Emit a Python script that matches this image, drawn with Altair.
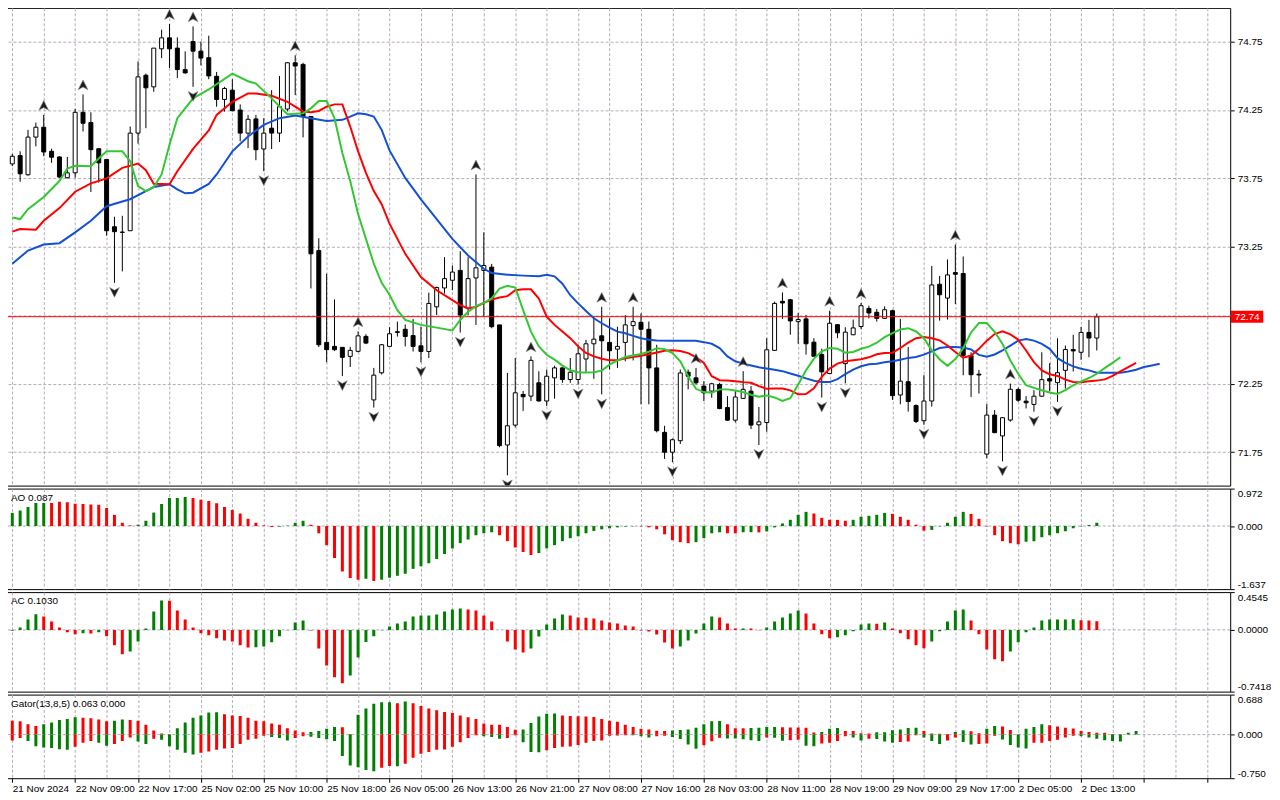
import json
import altair as alt
import pandas as pd

# ---------------- candles (hourly bars, index 0..138) ----------------
opens = [73.856, 73.917, 73.777, 74.052, 74.124, 73.948, 73.907, 73.755, 73.791, 74.233,
         74.158, 73.967, 73.888, 73.397, 73.358, 73.368, 74.081, 74.504, 74.419, 74.697,
         74.777, 74.702, 74.545, 74.750, 74.680, 74.632, 74.496, 74.327, 74.395, 74.250,
         74.081, 74.185, 73.965, 74.117, 74.081, 74.257, 74.595, 74.583, 74.202, 73.223,
         72.552, 72.523, 72.516, 72.450, 72.487, 72.596, 72.132, 72.330, 72.523, 72.630,
         72.648, 72.602, 72.527, 72.486, 72.812, 72.950, 73.006, 73.078, 72.800, 73.023,
         73.078, 73.102, 72.680, 71.803, 71.948, 72.172, 72.160, 72.257, 72.124, 72.293,
         72.366, 72.281, 72.281, 72.431, 72.542, 72.600, 72.552, 72.503, 72.552, 72.675,
         72.699, 72.648, 72.366, 71.895, 71.750, 71.834, 72.334, 72.293, 72.233, 72.196,
         72.245, 72.076, 71.984, 72.143, 72.196, 71.950, 71.967, 72.494, 72.852, 72.864,
         72.704, 72.724, 72.554, 72.463, 72.325, 72.682, 72.397, 72.608, 72.668, 72.800,
         72.772, 72.728, 72.784, 72.168, 72.265, 72.091, 71.980, 72.124, 72.977, 72.876,
         73.062, 73.055, 72.456, 72.320, 71.736, 72.021, 71.869, 71.985, 72.208, 72.123,
         72.099, 72.159, 72.287, 72.258, 72.348, 72.500, 72.480, 72.625, 72.584]
highs = [73.930, 73.948, 74.105, 74.158, 74.214, 73.967, 73.912, 73.907, 74.257, 74.364,
         74.233, 73.967, 73.888, 73.470, 73.477, 74.129, 74.605, 74.516, 74.702, 74.837,
         74.878, 74.781, 74.678, 74.861, 74.750, 74.793, 74.528, 74.419, 74.475, 74.291,
         74.214, 74.214, 74.190, 74.395, 74.499, 74.600, 74.649, 74.595, 74.202, 73.313,
         73.054, 72.866, 72.516, 72.520, 72.632, 72.612, 72.366, 72.540, 72.663, 72.704,
         72.684, 72.723, 72.667, 72.916, 72.960, 73.175, 73.114, 73.218, 73.175, 73.779,
         73.356, 73.126, 72.680, 72.329, 72.438, 72.197, 72.450, 72.341, 72.353, 72.382,
         72.370, 72.438, 72.535, 72.571, 72.740, 72.812, 72.728, 72.667, 72.752, 72.812,
         72.764, 72.704, 72.535, 71.943, 71.850, 72.354, 72.354, 72.366, 72.269, 72.257,
         72.257, 72.160, 72.196, 72.342, 72.233, 72.080, 72.583, 72.850, 72.917, 72.870,
         72.767, 72.752, 72.583, 72.506, 72.784, 72.685, 72.663, 72.719, 72.840, 72.820,
         72.796, 72.815, 72.791, 72.724, 72.518, 72.100, 72.313, 73.110, 73.038, 73.158,
         73.267, 73.180, 72.480, 72.352, 72.101, 72.058, 72.006, 72.251, 72.222, 72.159,
         72.203, 72.480, 72.401, 72.582, 72.529, 72.608, 72.666, 72.717, 72.763]
lows = [73.840, 73.726, 73.770, 73.984, 73.912, 73.864, 73.755, 73.750, 73.755, 74.093,
        73.651, 73.719, 73.332, 72.987, 73.071, 73.368, 74.004, 74.117, 74.383, 74.629,
        74.557, 74.484, 74.516, 74.419, 74.576, 74.475, 74.274, 74.238, 74.240, 74.021,
        73.972, 73.883, 73.803, 73.965, 74.016, 74.240, 74.359, 74.050, 72.946, 72.518,
        72.407, 72.490, 72.306, 72.373, 72.480, 72.540, 72.076, 72.318, 72.520, 72.595,
        72.523, 72.486, 72.407, 72.438, 72.752, 72.909, 72.933, 72.624, 72.752, 72.680,
        72.740, 72.655, 71.786, 71.581, 71.931, 72.052, 72.124, 72.120, 72.088, 72.141,
        72.257, 72.257, 72.245, 72.330, 72.286, 72.172, 72.354, 72.366, 72.414, 72.420,
        72.100, 72.100, 71.895, 71.701, 71.677, 71.810, 72.209, 72.245, 72.124, 72.148,
        72.064, 71.980, 71.967, 72.140, 71.919, 71.803, 71.900, 72.490, 72.724, 72.608,
        72.542, 72.463, 72.450, 72.149, 72.320, 72.583, 72.253, 72.605, 72.650, 72.728,
        72.704, 72.723, 72.132, 72.100, 72.047, 71.963, 71.951, 72.083, 72.711, 72.719,
        72.832, 72.312, 72.154, 72.178, 71.707, 71.889, 71.683, 71.973, 72.118, 72.070,
        72.046, 72.155, 72.195, 72.118, 72.215, 72.340, 72.425, 72.444, 72.493]
closes = [73.912, 73.784, 74.052, 74.124, 73.943, 73.905, 73.760, 73.791, 74.233, 74.153,
          73.960, 73.864, 73.368, 73.361, 73.356, 74.081, 74.492, 74.412, 74.702, 74.777,
          74.697, 74.545, 74.521, 74.680, 74.629, 74.499, 74.327, 74.407, 74.245, 74.081,
          74.182, 73.960, 74.081, 74.081, 74.274, 74.595, 74.571, 74.202, 73.199, 72.535,
          72.499, 72.499, 72.443, 72.494, 72.600, 72.547, 72.313, 72.535, 72.615, 72.625,
          72.595, 72.523, 72.486, 72.837, 72.953, 73.018, 73.066, 72.752, 73.018, 73.097,
          73.114, 72.667, 71.798, 71.943, 72.184, 72.155, 72.421, 72.124, 72.305, 72.366,
          72.281, 72.334, 72.469, 72.542, 72.576, 72.564, 72.491, 72.523, 72.680, 72.704,
          72.648, 72.366, 71.907, 71.750, 71.841, 72.329, 72.305, 72.257, 72.184, 72.250,
          72.069, 71.984, 72.153, 72.209, 71.948, 71.972, 72.498, 72.837, 72.840, 72.709,
          72.719, 72.542, 72.451, 72.337, 72.692, 72.622, 72.627, 72.658, 72.820, 72.767,
          72.728, 72.791, 72.163, 72.269, 72.120, 71.975, 72.124, 72.972, 72.900, 73.045,
          73.050, 72.457, 72.316, 72.314, 72.021, 71.893, 72.002, 72.210, 72.130, 72.111,
          72.159, 72.280, 72.270, 72.331, 72.500, 72.490, 72.625, 72.584, 72.739]

price_now = 72.74

# fractal bars
frac_up = [4, 9, 20, 23, 36, 44, 59, 66, 75, 79, 87, 93, 98, 104, 108, 120, 127]
frac_dn = [13, 23, 32, 42, 46, 52, 57, 63, 68, 72, 75, 84, 95, 103, 106, 116, 126, 130, 133]

# ---------------- Alligator lines (bar index, price) ----------------
jaw = [(0, 73.127), (2, 73.223), (4, 73.267), (6, 73.277), (8, 73.356), (10, 73.441), (12, 73.547),
       (14, 73.581), (15, 73.598), (17, 73.658), (18, 73.687), (20, 73.707), (21, 73.670), (22, 73.641),
       (23, 73.646), (25, 73.710), (26, 73.779), (28, 73.948), (30, 74.057), (32, 74.141), (34, 74.190),
       (36, 74.209), (38, 74.190), (40, 74.170), (42, 74.178), (43, 74.202), (44, 74.226), (45, 74.219),
       (46, 74.202), (47, 74.105), (48, 73.955), (50, 73.754), (52, 73.597), (54, 73.453), (56, 73.308),
       (58, 73.187), (60, 73.090), (61, 73.059), (63, 73.047), (65, 73.040), (67, 73.035), (68, 73.047),
       (69, 73.035), (70, 72.981), (71, 72.897), (72, 72.837), (73, 72.782), (74, 72.728), (75, 72.692),
       (76, 72.660), (77, 72.631), (78, 72.619), (79, 72.600), (80, 72.583), (81, 72.571), (82, 72.566),
       (84, 72.564), (86, 72.564), (87, 72.564), (88, 72.554), (89, 72.542), (90, 72.510), (91, 72.450),
       (92, 72.414), (93, 72.397), (94, 72.383), (95, 72.370), (96, 72.361), (97, 72.352), (98, 72.342),
       (99, 72.325), (100, 72.308), (101, 72.289), (102, 72.272), (103, 72.262), (104, 72.262),
       (105, 72.284), (106, 72.320), (107, 72.354), (108, 72.378), (109, 72.393), (110, 72.397),
       (111, 72.407), (112, 72.414), (113, 72.426), (114, 72.439), (115, 72.446), (116, 72.463),
       (117, 72.487), (118, 72.511), (119, 72.518), (120, 72.518), (121, 72.515), (122, 72.500),
       (123, 72.461), (124, 72.447), (125, 72.464), (126, 72.493), (127, 72.529), (128, 72.565),
       (129, 72.577), (130, 72.565), (131, 72.541), (132, 72.505), (133, 72.437), (134, 72.403),
       (135, 72.377), (136, 72.360), (137, 72.348), (138, 72.331), (139, 72.331), (140, 72.331),
       (141, 72.331), (142, 72.340), (143, 72.352), (144, 72.372), (145, 72.384), (146, 72.396)]
teeth = [(0, 73.361), (1, 73.380), (3, 73.376), (4, 73.441), (6, 73.533), (8, 73.653), (10, 73.714),
         (12, 73.750), (14, 73.827), (16, 73.859), (17, 73.810), (18, 73.711), (20, 73.707), (21, 73.803),
         (23, 73.966), (25, 74.100), (26, 74.214), (28, 74.310), (30, 74.371), (31, 74.371), (33, 74.354),
         (35, 74.310), (36, 74.274), (37, 74.238), (38, 74.233), (39, 74.243), (40, 74.274), (41, 74.291),
         (42, 74.291), (43, 74.129), (44, 73.948), (45, 73.791), (46, 73.658), (47, 73.562), (48, 73.420),
         (50, 73.199), (52, 73.030), (54, 72.933), (56, 72.861), (57, 72.824), (58, 72.800), (59, 72.812),
         (60, 72.841), (61, 72.865), (62, 72.880), (63, 72.890), (64, 72.933), (65, 72.940), (66, 72.940),
         (67, 72.873), (68, 72.740), (69, 72.680), (70, 72.631), (71, 72.583), (72, 72.523), (73, 72.475),
         (74, 72.450), (75, 72.433), (76, 72.421), (77, 72.421), (78, 72.436), (79, 72.445), (80, 72.455),
         (81, 72.465), (82, 72.479), (83, 72.491), (84, 72.494), (85, 72.489), (86, 72.474), (87, 72.445),
         (88, 72.402), (89, 72.305), (90, 72.276), (91, 72.273), (92, 72.269), (93, 72.262), (94, 72.257),
         (95, 72.233), (96, 72.213), (97, 72.215), (98, 72.216), (99, 72.202), (100, 72.173), (101, 72.175),
         (102, 72.216), (103, 72.301), (104, 72.361), (105, 72.397), (106, 72.414), (107, 72.422),
         (108, 72.429), (109, 72.443), (110, 72.465), (111, 72.475), (112, 72.477), (113, 72.511),
         (114, 72.550), (115, 72.583), (116, 72.591), (117, 72.583), (118, 72.567), (119, 72.530),
         (120, 72.482), (121, 72.440), (122, 72.456), (123, 72.505), (124, 72.565), (125, 72.613),
         (126, 72.633), (127, 72.611), (128, 72.572), (129, 72.493), (130, 72.408), (131, 72.348),
         (132, 72.319), (133, 72.307), (134, 72.280), (135, 72.263), (136, 72.261), (137, 72.268),
         (138, 72.273), (139, 72.282), (140, 72.307), (141, 72.340), (142, 72.372), (143, 72.403)]
lips = [(0, 73.465), (1, 73.453), (2, 73.525), (4, 73.615), (6, 73.731), (7, 73.822), (8, 73.842),
        (10, 73.839), (11, 73.895), (12, 73.948), (14, 73.948), (15, 73.876), (16, 73.694), (17, 73.658),
        (18, 73.687), (19, 73.779), (20, 73.996), (21, 74.190), (23, 74.335), (25, 74.400), (28, 74.516),
        (30, 74.460), (31, 74.443), (33, 74.335), (35, 74.219), (37, 74.226), (38, 74.262), (39, 74.315),
        (40, 74.315), (41, 74.190), (42, 73.936), (43, 73.731), (44, 73.490), (46, 73.127), (47, 72.987),
        (48, 72.900), (49, 72.788), (50, 72.716), (52, 72.680), (54, 72.660), (56, 72.639), (57, 72.716),
        (58, 72.776), (59, 72.817), (60, 72.841), (61, 72.873), (62, 72.945), (63, 72.965), (64, 72.953),
        (65, 72.788), (66, 72.631), (67, 72.523), (68, 72.462), (69, 72.426), (70, 72.383), (71, 72.349),
        (72, 72.334), (73, 72.332), (74, 72.334), (75, 72.346), (76, 72.390), (77, 72.421), (78, 72.445),
        (79, 72.457), (80, 72.467), (81, 72.484), (82, 72.510), (83, 72.503), (84, 72.474), (85, 72.414),
        (86, 72.305), (87, 72.213), (88, 72.189), (89, 72.184), (90, 72.209), (91, 72.209), (92, 72.200),
        (93, 72.189), (94, 72.170), (95, 72.155), (96, 72.165), (97, 72.150), (98, 72.124), (99, 72.144),
        (100, 72.245), (101, 72.349), (102, 72.434), (103, 72.487), (104, 72.511), (105, 72.506),
        (106, 72.477), (107, 72.482), (108, 72.506), (109, 72.521), (110, 72.550), (111, 72.591),
        (112, 72.620), (113, 72.646), (114, 72.656), (115, 72.632), (116, 72.583), (117, 72.494),
        (118, 72.429), (119, 72.381), (120, 72.430), (121, 72.510), (122, 72.625), (123, 72.693),
        (124, 72.693), (125, 72.630), (126, 72.541), (127, 72.420), (128, 72.323), (129, 72.239),
        (130, 72.220), (131, 72.203), (132, 72.186), (133, 72.176), (134, 72.203), (135, 72.239),
        (136, 72.268), (137, 72.292), (138, 72.323), (139, 72.364), (140, 72.403), (141, 72.444)]

# ---------------- Awesome Oscillator ----------------
ao_v = [0.342, 0.402, 0.496, 0.598, 0.600, 0.596, 0.630, 0.615, 0.580, 0.573,
        0.556, 0.555, 0.470, 0.290, 0.085, 0.017, 0.034, 0.137, 0.350, 0.573,
        0.726, 0.730, 0.752, 0.726, 0.684, 0.650, 0.590, 0.496, 0.419, 0.325,
        0.188, 0.085, 0.017, -0.026, -0.017, 0.009, 0.085, 0.137, 0.034, -0.188,
        -0.496, -0.829, -1.179, -1.350, -1.393, -1.368, -1.427, -1.393, -1.342, -1.291,
        -1.239, -1.111, -1.043, -0.966, -0.855, -0.726, -0.581, -0.444, -0.350, -0.239,
        -0.188, -0.162, -0.239, -0.393, -0.556, -0.675, -0.752, -0.701, -0.581, -0.496,
        -0.393, -0.316, -0.265, -0.188, -0.128, -0.085, -0.060, -0.034, -0.017, -0.009,
        -0.010, -0.034, -0.085, -0.214, -0.368, -0.419, -0.444, -0.419, -0.316, -0.188,
        -0.162, -0.188, -0.190, -0.162, -0.160, -0.165, -0.137, -0.034, 0.068, 0.162,
        0.291, 0.368, 0.325, 0.214, 0.162, 0.160, 0.137, 0.162, 0.240, 0.265,
        0.291, 0.342, 0.316, 0.240, 0.162, 0.034, -0.120, -0.100, -0.010, 0.085,
        0.240, 0.368, 0.316, 0.188, -0.010, -0.239, -0.393, -0.444, -0.470, -0.410,
        -0.393, -0.290, -0.239, -0.188, -0.137, -0.060, -0.005, 0.026, 0.087]
ao_runs = [("g", 5), ("r", 11), ("g", 7), ("r", 11), ("g", 4), ("r", 7), ("g", 1), ("r", 1),
           ("g", 15), ("r", 5), ("g", 13), ("r", 7), ("g", 4), ("r", 2), ("g", 2), ("r", 1),
           ("g", 6), ("r", 5), ("g", 5), ("r", 5), ("g", 5), ("r", 7), ("g", 10)]

# ---------------- Accelerator Oscillator ----------------
ac_v = [-0.010, 0.028, 0.124, 0.188, 0.160, 0.100, 0.028, -0.028, -0.052, -0.040,
        -0.044, -0.028, -0.076, -0.184, -0.293, -0.260, -0.140, 0.016, 0.220, 0.353,
        0.352, 0.232, 0.124, 0.028, -0.040, -0.064, -0.100, -0.128, -0.140, -0.184,
        -0.212, -0.208, -0.200, -0.148, -0.076, -0.004, 0.088, 0.112, -0.008, -0.224,
        -0.429, -0.569, -0.641, -0.549, -0.333, -0.144, -0.076, -0.004, 0.040, 0.076,
        0.100, 0.160, 0.172, 0.174, 0.184, 0.220, 0.244, 0.257, 0.244, 0.232,
        0.172, 0.100, 0.000, -0.140, -0.236, -0.273, -0.224, -0.080, 0.064, 0.136,
        0.184, 0.172, 0.148, 0.147, 0.136, 0.112, 0.088, 0.076, 0.052, 0.040,
        -0.008, -0.020, -0.056, -0.152, -0.224, -0.200, -0.128, -0.044, 0.076, 0.160,
        0.148, 0.076, 0.016, 0.017, 0.016, -0.004, 0.028, 0.100, 0.148, 0.196,
        0.232, 0.196, 0.076, -0.052, -0.100, -0.088, -0.064, -0.016, 0.064, 0.076,
        0.075, 0.088, 0.016, -0.040, -0.112, -0.184, -0.220, -0.140, -0.016, 0.100,
        0.232, 0.244, 0.112, -0.052, -0.236, -0.353, -0.377, -0.260, -0.148, -0.028,
        0.028, 0.112, 0.124, 0.125, 0.126, 0.127, 0.115, 0.113, 0.103]
ac_runs = [("g", 4), ("r", 5), ("g", 1), ("r", 1), ("g", 1), ("r", 3), ("g", 5), ("r", 11),
           ("g", 7), ("r", 5), ("g", 15), ("r", 8), ("g", 5), ("r", 14), ("g", 5), ("r", 3),
           ("g", 1), ("r", 2), ("g", 5), ("r", 4), ("g", 5), ("r", 1), ("g", 1), ("r", 5),
           ("g", 5), ("r", 5), ("g", 9), ("r", 3)]

# ---------------- Gator Oscillator ----------------
gu_v = [0.24, 0.23, 0.18, 0.15, 0.18, 0.21, 0.25, 0.27, 0.30, 0.29,
        0.28, 0.26, 0.23, 0.24, 0.26, 0.25, 0.24, 0.17, 0.07, 0.02,
        0.005, 0.11, 0.21, 0.29, 0.33, 0.38, 0.385, 0.35, 0.33, 0.32,
        0.29, 0.24, 0.23, 0.19, 0.17, 0.11, 0.07, 0.04, 0.045, 0.06,
        0.10, 0.13, 0.125, 0.01, 0.34, 0.45, 0.53, 0.555, 0.556, 0.54,
        0.57, 0.54, 0.49, 0.45, 0.42, 0.39, 0.37, 0.33, 0.30, 0.27,
        0.19, 0.17, 0.169, 0.13, 0.085, 0.086, 0.20, 0.31, 0.36, 0.365,
        0.33, 0.32, 0.315, 0.31, 0.305, 0.27, 0.24, 0.22, 0.17, 0.13,
        0.10, 0.09, 0.065, 0.06, 0.07, 0.08, 0.09, 0.12, 0.18, 0.23,
        0.232, 0.18, 0.11, 0.108, 0.115, 0.12, 0.13, 0.132, 0.125, 0.123,
        0.121, 0.12, 0.035, 0.045, 0.10, 0.115, 0.063, 0.06, 0.022, 0.02,
        0.04, 0.042, 0.075, 0.09, 0.115, 0.12, 0.063, 0.017, 0.015, 0.012,
        0.045, 0.075, 0.057, 0.023, 0.10, 0.149, 0.14, 0.08, 0.005, 0.10,
        0.13, 0.177, 0.16, 0.14, 0.12, 0.103, 0.063, 0.046, 0.034, 0.03,
        0.01, 0.008, 0.03, 0.063]
gu_runs = [("r", 4), ("g", 5), ("r", 4), ("g", 2), ("r", 6), ("g", 6), ("r", 11), ("g", 4),
           ("r", 2), ("g", 5), ("r", 1), ("g", 1), ("r", 14), ("g", 5), ("r", 14), ("g", 7),
           ("r", 3), ("g", 4), ("r", 5), ("g", 3), ("r", 4), ("g", 6), ("r", 4), ("g", 2),
           ("r", 2), ("g", 2), ("r", 3), ("g", 3), ("r", 10), ("g", 2)]
gd_v = [-0.10, -0.06, -0.11, -0.20, -0.22, -0.23, -0.25, -0.26, -0.21, -0.14,
        -0.11, -0.14, -0.19, -0.16, -0.11, -0.05, -0.12, -0.16, -0.07, -0.09,
        -0.20, -0.26, -0.31, -0.34, -0.31, -0.29, -0.26, -0.24, -0.23, -0.16,
        -0.09, -0.07, -0.02, -0.04, -0.06, -0.10, -0.06, -0.03, -0.035, -0.06,
        -0.08, -0.11, -0.37, -0.53, -0.56, -0.61, -0.63, -0.57, -0.54, -0.545,
        -0.50, -0.40, -0.33, -0.30, -0.26, -0.255, -0.21, -0.13, -0.06, -0.01,
        -0.03, -0.04, -0.07, -0.06, -0.01, -0.13, -0.30, -0.305, -0.27, -0.23,
        -0.21, -0.205, -0.18, -0.14, -0.11, -0.10, -0.02, -0.015, -0.01, -0.012,
        -0.03, -0.05, -0.03, -0.02, -0.04, -0.075, -0.17, -0.245, -0.185, -0.115,
        -0.055, -0.066, -0.069, -0.08, -0.095, -0.11, -0.05, -0.055, -0.105, -0.095,
        -0.09, -0.19, -0.20, -0.155, -0.14, -0.11, -0.03, -0.05, -0.10, -0.07,
        -0.075, -0.12, -0.14, -0.125, -0.12, -0.01, -0.05, -0.11, -0.16, -0.10,
        -0.05, -0.125, -0.17, -0.16, -0.155, -0.02, -0.085, -0.18, -0.22, -0.24,
        -0.14, -0.14, -0.11, -0.09, -0.05, -0.02, -0.03, -0.05, -0.07, -0.095,
        -0.11, -0.12, 0.0, 0.0]
gd_runs = [("r", 2), ("g", 6), ("r", 3), ("g", 2), ("r", 3), ("g", 2), ("r", 1), ("g", 5),
           ("r", 9), ("g", 3), ("r", 2), ("g", 9), ("r", 2), ("g", 1), ("r", 10), ("g", 3),
           ("r", 2), ("g", 3), ("r", 11), ("g", 3), ("r", 2), ("g", 4), ("r", 3), ("g", 5),
           ("r", 1), ("g", 2), ("r", 2), ("g", 2), ("r", 4), ("g", 2), ("r", 1), ("g", 3),
           ("r", 3), ("g", 3), ("r", 2), ("g", 2), ("r", 3), ("g", 4), ("r", 6), ("g", 6), ("r", 2)]

# ---------------- axis texts ----------------
xlabels = ["21 Nov 2024", "22 Nov 09:00", "22 Nov 17:00", "25 Nov 02:00", "25 Nov 10:00",
           "25 Nov 18:00", "26 Nov 05:00", "26 Nov 13:00", "26 Nov 21:00", "27 Nov 08:00",
           "27 Nov 16:00", "28 Nov 03:00", "28 Nov 11:00", "28 Nov 19:00", "29 Nov 09:00",
           "29 Nov 17:00", "2 Dec 05:00", "2 Dec 13:00"]
price_ticks = [71.75, 72.00, 72.25, 72.50, 72.75, 73.00, 73.25, 73.50, 73.75, 74.00, 74.25, 74.50, 74.75]
ao_ticks = [-1.637, 0.0, 0.972]
ac_ticks = [-0.7418, 0.0, 0.4545]
gator_ticks = [-0.750, 0.0, 0.688]
ao_title = "AO 0.087"
ac_title = "AC 0.1030"
gator_title = "Gator(13,8,5) 0.063 0.000"

# ---------------- styling ----------------
FONT = "Liberation Sans"
FS = 10
GRID = "#b7a9b9"
ZERO = "#a9abba"
BLUE = "#1450d2"
RED = "#ff0000"
GREEN = "#32c832"
HG = "#008000"
HR = "#ff0000"
W = 1229
XDOM = [-0.04, 154.34]
grid_vals = list(range(0, 153, 4))


def expand(runs):
    return "".join(c * n for c, n in runs)


xscale = alt.Scale(domain=XDOM, nice=False, zero=False)
x_grid_axis = alt.Axis(values=grid_vals, grid=True, gridDash=[3, 2], gridColor=GRID,
                       labels=False, ticks=False, domain=False, title=None)
labels_js = json.dumps(xlabels)
x_label_axis = alt.Axis(
    values=grid_vals, grid=True, gridDash=[3, 2], gridColor=GRID,
    labelExpr=f"(datum.value % 8 === 0 && datum.value / 8 < {len(xlabels)}) ? {labels_js}[datum.value / 8] : ''",
    labelAlign="left", labelOverlap=False, labelFlush=False, labelPadding=1,
    ticks=True, tickSize=4, tickColor="black",
    tickOpacity={"condition": {"test": "datum.value % 8 === 0", "value": 1}, "value": 0},
    domain=False, title=None)


def X(axis=x_grid_axis):
    return alt.X("i:Q", scale=xscale, axis=axis, title=None)


# ---------------- main price panel ----------------
candles = pd.DataFrame({"i": list(range(len(closes))), "open": opens, "high": highs,
                        "low": lows, "close": closes})
candles["dir"] = ["up" if c >= o else "down" for o, c in zip(opens, closes)]

yscale_main = alt.Scale(domain=[71.506, 74.996], nice=False, zero=False)
y_main_axis = alt.Axis(orient="right", values=price_ticks, grid=True,
                       gridDash=[3, 2], gridColor=GRID, tickSize=4, tickColor="black",
                       domain=False, title=None, labelPadding=3,
                       labelExpr=f"abs(datum.value - {price_now}) < 0.02 ? '' : format(datum.value, '.2f')")

base = alt.Chart(candles)
wicks = base.mark_rule(color="black", strokeWidth=1, clip=True).encode(
    x=X(), y=alt.Y("low:Q", scale=yscale_main, axis=y_main_axis, title=None), y2="high:Q")
bodies = base.mark_bar(size=4, stroke="black", strokeWidth=1, clip=True).encode(
    x=X(), y=alt.Y("open:Q", title=None), y2="close:Q",
    fill=alt.Fill("dir:N", scale=alt.Scale(domain=["up", "down"], range=["white", "black"]), legend=None))

now_df = pd.DataFrame({"p": [price_now], "t": [f"{price_now:.2f}"]})
now_rule = alt.Chart(now_df).mark_rule(color=RED, strokeWidth=1).encode(y=alt.Y("p:Q", title=None))

line_rows = ([{"i": i, "v": v, "s": "jaw"} for i, v in jaw] +
             [{"i": i, "v": v, "s": "teeth"} for i, v in teeth] +
             [{"i": i, "v": v, "s": "lips"} for i, v in lips])
lines = alt.Chart(pd.DataFrame(line_rows)).mark_line(strokeWidth=2, clip=True).encode(
    x=X(), y=alt.Y("v:Q", title=None),
    stroke=alt.Stroke("s:N", scale=alt.Scale(domain=["jaw", "teeth", "lips"], range=[BLUE, RED, GREEN]),
                      legend=None),
    detail="s:N", order="i:Q")

UP = "M0,-1L0.9,0.8L0,0.3L-0.9,0.8Z"
DN = "M0,1L0.9,-0.8L0,-0.3L-0.9,-0.8Z"
fu = pd.DataFrame({"i": frac_up, "p": [highs[k] for k in frac_up]})
fd = pd.DataFrame({"i": frac_dn, "p": [lows[k] for k in frac_dn]})
up_m = alt.Chart(fu).mark_point(shape=UP, filled=True, fill="#1c1c1c", stroke="#8c8c8c",
                                strokeWidth=0.6, size=120, opacity=1, yOffset=-9, clip=True).encode(
    x=X(), y=alt.Y("p:Q", title=None))
dn_m = alt.Chart(fd).mark_point(shape=DN, filled=True, fill="#1c1c1c", stroke="#8c8c8c",
                                strokeWidth=0.6, size=120, opacity=1, yOffset=9, clip=True).encode(
    x=X(), y=alt.Y("p:Q", title=None))

tag = alt.Chart(now_df).mark_point(shape="M-2.7,-1L2.7,-1L2.7,1L-2.7,1Z", filled=True, fill=RED,
                                   size=144, opacity=1, strokeWidth=0).encode(
    x=alt.value(W + 17), y=alt.Y("p:Q", title=None))
tag_text = alt.Chart(now_df).mark_text(fill="white", fontSize=FS, font=FONT, baseline="middle",
                                       align="center").encode(
    x=alt.value(W + 17), y=alt.Y("p:Q", title=None), text="t:N")

main = alt.layer(wicks, bodies, now_rule, lines, up_m, dn_m, tag, tag_text).properties(width=W, height=480)


# ---------------- indicator panels ----------------
def indicator(values, runs, ticks, fmt, title, height, xaxis=x_grid_axis, extra=None):
    cols = expand(runs)
    n = min(len(values), len(cols))
    df = pd.DataFrame({"i": list(range(n)), "v": values[:n], "c": list(cols[:n])})
    if extra is not None:
        v2, r2 = extra
        c2 = expand(r2)
        m = min(len(v2), len(c2))
        df = pd.concat([df, pd.DataFrame({"i": list(range(m)), "v": v2[:m], "c": list(c2[:m])})])
        df = df[df["v"] != 0]
    yaxis = alt.Axis(orient="right", values=ticks, grid=False, tickSize=4, tickColor="black",
                     labelFlush=True, domain=False, title=None, labelPadding=3,
                     labelExpr=f"replace(format(datum.value, '{fmt}'), '\u2212', '-')")
    bars = alt.Chart(df).mark_bar(size=3, clip=True).encode(
        x=X(xaxis),
        y=alt.Y("v:Q", scale=alt.Scale(domain=[ticks[0], ticks[2]], nice=False, zero=False),
                axis=yaxis, title=None),
        y2=alt.datum(0),
        fill=alt.Fill("c:N", scale=alt.Scale(domain=["g", "r"], range=[HG, HR]), legend=None))
    zero = alt.Chart(pd.DataFrame({"z": [0.0]})).mark_rule(color=ZERO, strokeDash=[3, 2]).encode(
        y=alt.Y("z:Q", title=None))
    label = alt.Chart(pd.DataFrame({"t": [title]})).mark_text(
        align="left", baseline="top", fontSize=FS, font=FONT, color="black").encode(
        x=alt.value(4), y=alt.value(4), text="t:N")
    return alt.layer(zero, bars, label).properties(width=W, height=height)


ao = indicator(ao_v, ao_runs, ao_ticks, ".3f", ao_title, 101)
ac = indicator(ac_v, ac_runs, ac_ticks, ".4f", ac_title, 100)
gator = indicator(gu_v, gu_runs, gator_ticks, ".3f", gator_title, 84, xaxis=x_label_axis,
                  extra=(gd_v, gd_runs))

chart = alt.vconcat(main, ao, ac, gator, spacing=3, bounds="flush").resolve_scale(
    color="independent", fill="independent", stroke="independent", y="independent"
).properties(
    padding={"left": -2, "top": -3, "right": 0, "bottom": 0}, background="white"
).configure_view(stroke="black", strokeWidth=1).configure_axis(
    labelFont=FONT, labelFontSize=FS, labelColor="black")

chart.save("out.html", embed_options={"renderer": "svg", "actions": False})
